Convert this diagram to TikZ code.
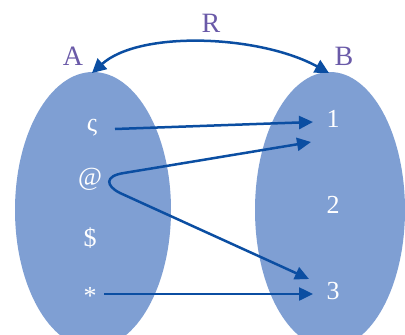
\documentclass[tikz,border=0pt]{standalone}
\usepackage{fontspec}
\setmainfont{Liberation Serif}
\usetikzlibrary{arrows.meta}
\definecolor{setfill}{RGB}{127,159,211}
\definecolor{arrblue}{RGB}{11,78,162}
\definecolor{lblpurple}{RGB}{106,90,168}
\tikzset{
  setlbl/.style={text=lblpurple,font=\fontsize{28}{30}\selectfont},
  elem/.style={text=white,font=\fontsize{26}{28}\selectfont,inner sep=0pt},
  maparrow/.style={draw=arrblue,line width=2.5pt,-{Triangle[length=14pt,width=13pt]}},
}
\begin{document}
\begin{tikzpicture}[x=1pt,y=-1pt]
\useasboundingbox (0,0) rectangle (405,335);
\clip (0,0) rectangle (405,335);
\fill[setfill] (93,210) ellipse [x radius=78,y radius=138];
\fill[setfill] (330,210) ellipse [x radius=75,y radius=138];
\node[setlbl] (A) at (73,56) {A};
\node[setlbl] (B) at (344,56) {B};
\node[setlbl] (R) at (211,23) {R};
\coordinate (Atop) at (92,73);
\coordinate (Btop) at (329,73);
\draw[draw=arrblue,line width=2.5pt,{Triangle[length=14pt,width=14pt]}-{Triangle[length=14pt,width=14pt]}]
  (Atop) .. controls (140,30) and (260,35) .. (Btop);
\node[elem] (s) at (92,128) {ς};
\node[elem] (at) at (90,179) {@};
\node[elem] (d) at (90,238) {\$};
\node[elem] (st) at (90,296) {*};
\node[elem] (n1) at (333,119) {1};
\node[elem] (n2) at (333,205) {2};
\node[elem] (n3) at (333,291) {3};
\coordinate (s0) at (115,129);
\coordinate (e1) at (313,122);
\coordinate (e1b) at (311,142);
\coordinate (u1) at (124,173);
\coordinate (u2) at (120,193);
\coordinate (e3a) at (309,279);
\coordinate (st0) at (104,294);
\coordinate (e3b) at (313,294);
\draw[maparrow] (s0) -- (e1);
\draw[maparrow,{Triangle[length=14pt,width=13pt]}-{Triangle[length=14pt,width=13pt]}]
  (e1b) -- (u1) .. controls (104,176) and (106,186) .. (u2) -- (e3a);
\draw[maparrow] (st0) -- (e3b);
\end{tikzpicture}
\end{document}
